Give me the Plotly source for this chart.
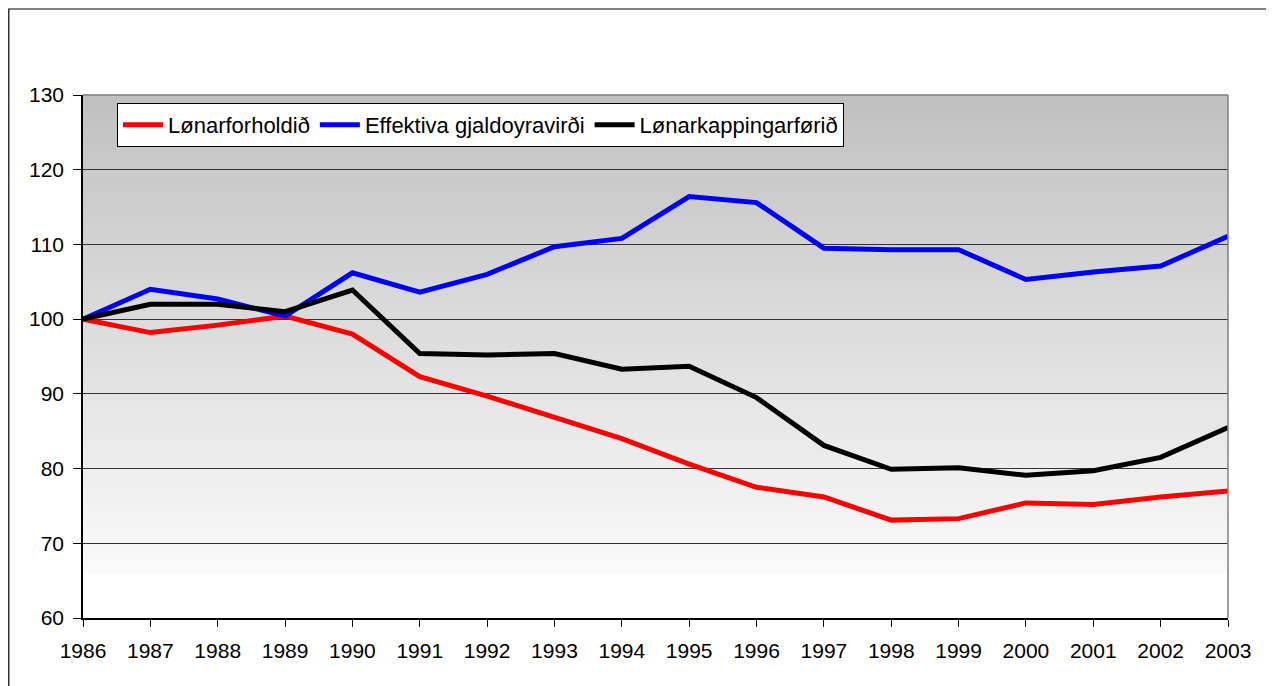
import plotly.graph_objects as go

years = list(range(1986, 2004))
lonarforholdid = [100, 98.2, 99.2, 100.4, 98.0, 92.3, 89.7, 86.8, 84.0, 80.6, 77.5,
                  76.2, 73.1, 73.3, 75.4, 75.2, 76.2, 77.0]
effektiva = [100, 104.0, 102.7, 100.4, 106.2, 103.6, 106.0, 109.7, 110.8, 116.4, 115.6,
             109.5, 109.3, 109.3, 105.3, 106.3, 107.1, 111.1]
lonarkapping = [100, 102.0, 102.0, 101.0, 103.9, 95.4, 95.2, 95.4, 93.3, 93.7, 89.5,
                83.1, 79.9, 80.1, 79.1, 79.7, 81.5, 85.5]

series_names = ["Lønarforholdið", "Effektiva gjaldoyravirði", "Lønarkappingarførið"]
series_vals = [lonarforholdid, effektiva, lonarkapping]
series_colors = ["#ff0000", "#0000ff", "#000000"]

fig = go.Figure()
for name, vals, col in zip(series_names, series_vals, series_colors):
    fig.add_trace(go.Scatter(x=years, y=vals, mode="lines", name=name,
                             line=dict(color=col, width=5)))

L, T, PW, PH = 75, 87, 1145, 523

shapes = []
# gradient background (gray at top to near-white at ~66)
n = 64
top_v, bot_v = 130.0, 66.0
c_top, c_bot = 192, 250
step = (top_v - bot_v) / n
for i in range(n):
    y1 = top_v - step * i
    y0 = top_v - step * (i + 1) - (0.15 if i < n - 1 else 0)
    c = int(round(c_top + (c_bot - c_top) * (i + 0.5) / n))
    shapes.append(dict(type="rect", xref="paper", yref="y", x0=0, x1=1, y0=y0, y1=y1,
                       fillcolor=f"rgb({c},{c},{c})", line=dict(width=0), layer="below"))
# plot area top/right border
shapes.append(dict(type="line", xref="paper", yref="paper", x0=0, x1=1, y0=1, y1=1,
                   line=dict(color="#808080", width=1.5)))
shapes.append(dict(type="line", xref="paper", yref="paper", x0=1, x1=1, y0=0, y1=1,
                   line=dict(color="#808080", width=1.5)))
# outer chart border
shapes.append(dict(type="rect", xref="paper", yref="paper",
                   x0=(0.8 - L) / PW, x1=(1264 - L) / PW,
                   y0=(T + PH - 700) / PH, y1=(T + PH - 1) / PH,
                   line=dict(color="#000000", width=1.2), fillcolor="rgba(0,0,0,0)"))

fig.update_layout(
    width=1274, height=686,
    margin=dict(l=L, r=1274 - L - PW, t=T, b=686 - T - PH),
    paper_bgcolor="white", plot_bgcolor="white",
    font=dict(family="Liberation Sans, Arial, sans-serif", size=21, color="black"),
    shapes=shapes,
    showlegend=True,
    legend=dict(orientation="h", x=(109 - L) / PW, y=(T + PH - 95) / PH,
                xanchor="left", yanchor="top",
                bgcolor="white", bordercolor="#000000", borderwidth=1,
                font=dict(size=22), itemwidth=40, tracegroupgap=0),
)
fig.update_xaxes(range=[1986, 2003], tickmode="array", tickvals=years,
                 ticktext=[str(y) for y in years],
                 showgrid=False, zeroline=False, showline=True, linecolor="#000000",
                 linewidth=1.5, ticks="outside", ticklen=7, tickcolor="#000000",
                 tickfont=dict(size=21), ticklabelstandoff=6)
fig.update_yaxes(range=[60, 130], dtick=10, tick0=60,
                 showgrid=True, gridcolor="#333333", gridwidth=1, zeroline=False,
                 showline=True, linecolor="#000000", linewidth=1.5,
                 ticks="outside", ticklen=8, tickcolor="#000000",
                 tickfont=dict(size=21), ticklabelstandoff=5)

fig.write_html("out.html")
